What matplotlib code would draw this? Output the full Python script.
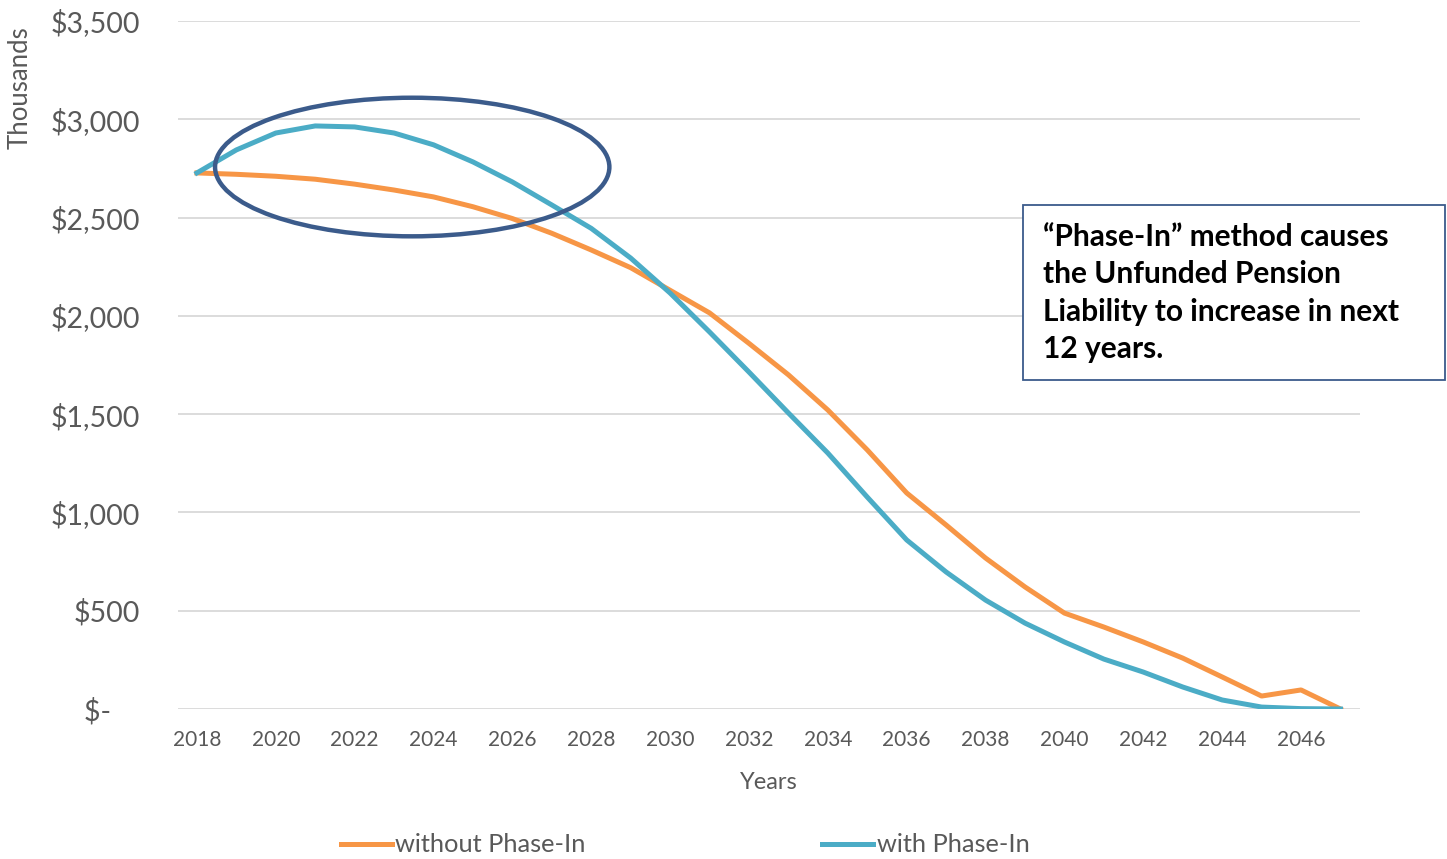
import matplotlib.pyplot as plt
from matplotlib.patches import Ellipse, Rectangle
from matplotlib.ticker import FuncFormatter

# ==========================================
# DATA (thousands of dollars)
# ==========================================

years = list(range(2018, 2048))

without_phase_in = [
    2727, 2720, 2710, 2695, 2670, 2640, 2605, 2555, 2495, 2420,
    2335, 2245, 2130, 2015, 1860, 1700, 1521, 1318, 1099, 936,
    768, 621, 488, 417, 341, 259, 163, 66, 97, 0,
]

with_phase_in = [
    2727, 2844, 2930, 2966, 2961, 2930, 2870, 2783, 2681, 2564,
    2445, 2294, 2116, 1918, 1714, 1506, 1302, 1078, 860, 697,
    554, 437, 341, 254, 188, 112, 46, 10, 2, 0,
]

y_ticks = [0, 500, 1000, 1500, 2000, 2500, 3000, 3500]
x_ticks = list(range(2018, 2047, 2))

note = ("\u201cPhase-In\u201d method causes\n"
        "the Unfunded Pension\n"
        "Liability to increase in next\n"
        "12 years.")

ORANGE = "#F79646"
TEAL = "#4BACC6"
NAVY = "#3B5B8B"
GREY = "#595959"

plt.rcParams["font.family"] = ["Lato", "DejaVu Sans"]

# ==========================================
# FIGURE
# ==========================================

fig = plt.figure(figsize=(14.47, 8.59), dpi=100)
ax = fig.add_axes([0.123, 0.1746, 0.817, 0.801])

ax.plot(years, without_phase_in, color=ORANGE, linewidth=3.6,
        label="without Phase-In", solid_joinstyle="round", zorder=3)
ax.plot(years, with_phase_in, color=TEAL, linewidth=3.6,
        label="with Phase-In", solid_joinstyle="round", zorder=4)

# highlight the early years where phase-in runs higher
ax.add_patch(Ellipse((2023.46, 2757), 10.0, 705, fill=False,
                     edgecolor=NAVY, linewidth=3.2, zorder=5))

ax.set_xlim(2017.52, 2047.5)
ax.set_ylim(0, 3500)
ax.set_xticks(x_ticks)
ax.set_yticks(y_ticks)


def money(v, pos):
    if v == 0:
        return "$-    "
    return "${:,.0f}".format(v)


ax.yaxis.set_major_formatter(FuncFormatter(money))
ax.tick_params(axis="y", labelsize=20.5, colors=GREY, length=0, pad=27)
ax.tick_params(axis="x", labelsize=15, colors=GREY, length=0, pad=15)

ax.grid(axis="y", color="#D9D9D9", linewidth=1.3)
ax.set_axisbelow(True)
for side in ax.spines.values():
    side.set_visible(False)

ax.set_xlabel("Years", fontsize=17, color=GREY, labelpad=16)
fig.text(0.0138, 0.8976, "Thousands", rotation=90, fontsize=18.5,
         color=GREY, ha="center", va="center")

# note box
fig.patches.append(Rectangle((0.707, 0.5576), 0.2916, 0.2037,
                             transform=fig.transFigure, facecolor="white",
                             edgecolor=NAVY, linewidth=1.3, zorder=6))
fig.text(0.7208, 0.6589, note, fontsize=21.5, fontweight="bold",
         color="black", ha="left", va="center", linespacing=1.42,
         zorder=7)

fig.legend(loc="center", bbox_to_anchor=(0.4735, 0.0163), ncol=2,
           frameon=False, fontsize=18.3, handlelength=2.0,
           handletextpad=0.15, columnspacing=9.3, labelcolor=GREY)

fig.savefig("out.png", dpi=100)
